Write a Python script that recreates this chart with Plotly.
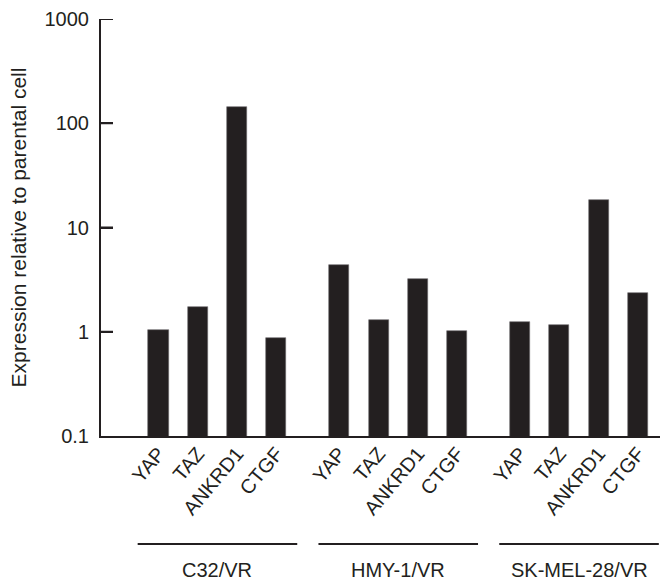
import plotly.graph_objects as go

groups = ["C32/VR", "HMY-1/VR", "SK-MEL-28/VR"]
genes = ["YAP", "TAZ", "ANKRD1", "CTGF"]
c32_values = [1.05, 1.74, 142, 0.88]
hmy1_values = [4.38, 1.30, 3.21, 1.01]
skmel28_values = [1.24, 1.17, 18.2, 2.36]
y_tick_values = [0.1, 1, 10, 100, 1000]
y_tick_labels = ["0.1", "1", "10", "100", "1000"]
y_title = "Expression relative to parental cell"

series = [c32_values, hmy1_values, skmel28_values]

DARK = "#231f20"
FONT = "Liberation Sans, Arial, Helvetica, sans-serif"
GROUP_STEP = 4.6  # slots between the first bars of consecutive groups
PLOT_W = 660 - 101
TICK_LEN = 12

xs, ys, labels = [], [], []
for g, vals in enumerate(series):
    for i, v in enumerate(vals):
        xs.append(g * GROUP_STEP + i)
        ys.append(v)
        labels.append(genes[i])

fig = go.Figure()
fig.add_trace(go.Bar(
    x=xs, y=ys, width=0.51,
    marker=dict(color=DARK, line=dict(color="#6d6a6b", width=0.6)),
    showlegend=False,
))

shapes = []
annotations = []
for g, name in enumerate(groups):
    center = g * GROUP_STEP + (len(genes) - 1) / 2
    shapes.append(dict(type="line", xref="x", yref="paper",
                       x0=center - 2.03, x1=center + 2.03,
                       y0=-0.259, y1=-0.259,
                       line=dict(color=DARK, width=2)))
    annotations.append(dict(text=name, xref="x", yref="paper",
                            x=center, y=-0.321, showarrow=False,
                            xanchor="center", yanchor="middle",
                            font=dict(size=20, color=DARK, family=FONT)))

# inward-pointing y ticks, placed on the log axis at the tick values
for tv in y_tick_values[1:]:
    shapes.append(dict(type="line", xref="paper", yref="y",
                       x0=0, x1=TICK_LEN / PLOT_W, y0=tv, y1=tv,
                       line=dict(color=DARK, width=2)))

fig.update_layout(
    template="none",
    width=660, height=585,
    margin=dict(l=101, r=0, t=19, b=149, autoexpand=False),
    paper_bgcolor="white", plot_bgcolor="white",
    font=dict(family=FONT, size=20, color=DARK),
    shapes=shapes, annotations=annotations,
    bargap=0,
)
fig.update_xaxes(
    range=[-1.463, 12.76], automargin=False,
    tickmode="array", tickvals=xs, ticktext=labels,
    tickangle=-50, ticks="", showline=True, linecolor=DARK, linewidth=2,
    ticklabelstandoff=-4,
    showgrid=False, zeroline=False,
    tickfont=dict(size=20, color=DARK, family=FONT),
)
fig.update_yaxes(
    type="log", range=[-1, 3], automargin=False,
    tickmode="array", tickvals=y_tick_values, ticktext=y_tick_labels,
    ticks="inside", ticklen=TICK_LEN, tickwidth=2, tickcolor=DARK,
    ticklabelstandoff=6,
    showline=True, linecolor=DARK, linewidth=2, mirror=False,
    showgrid=False, zeroline=False,
    tickfont=dict(size=20, color=DARK, family=FONT),
    title=dict(text=y_title, font=dict(size=21, color=DARK, family=FONT), standoff=12),
)

fig.write_html(
    "out.html",
    config={"displayModeBar": False},
    post_script="document.body.style.margin='0';document.body.style.overflow='hidden';",
)
